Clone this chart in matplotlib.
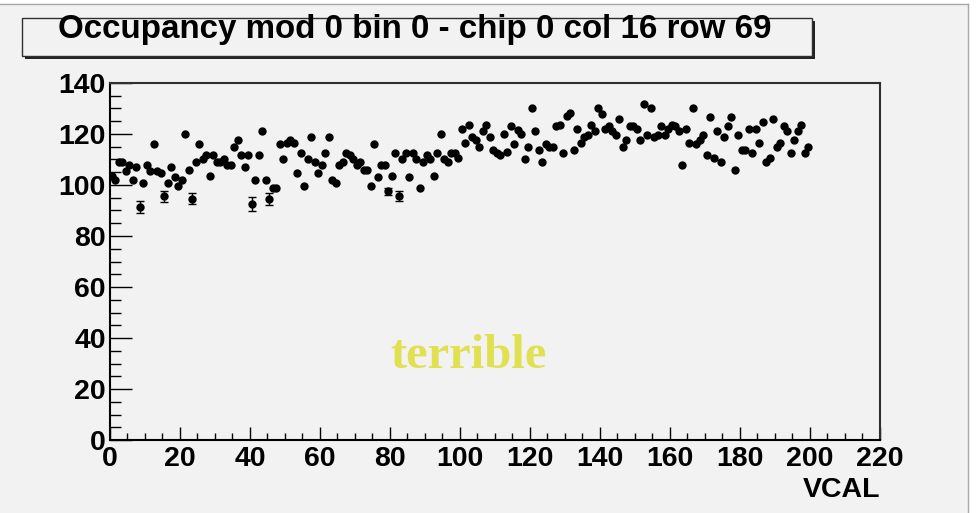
import matplotlib
matplotlib.use('Agg')
from matplotlib import pyplot as plt
from matplotlib.lines import Line2D
from matplotlib.patches import Rectangle
from matplotlib.ticker import MultipleLocator
import numpy as np

# occupancy per VCAL bin (bins 0..199)
occupancy = [
    103.6, 102.1, 109.1, 109.0, 105.6, 107.9, 101.9, 106.9, 91.5, 100.7,
    107.9, 105.6, 116.0, 105.6, 104.7, 95.5, 100.7, 106.9, 103.1, 99.7,
    101.8, 119.9, 105.7, 94.7, 109.0, 116.0, 110.1, 111.7, 103.6, 111.7,
    109.0, 109.1, 110.1, 107.9, 107.9, 115.0, 117.7, 111.7, 106.9, 111.7,
    92.5, 101.9, 111.7, 121.0, 101.9, 94.5, 98.7, 98.7, 116.0, 110.1,
    116.6, 117.7, 116.6, 104.7, 112.7, 99.7, 110.1, 118.7, 109.0, 104.7,
    107.9, 112.7, 118.7, 101.9, 100.7, 107.9, 109.0, 112.7, 111.7, 110.1,
    107.9, 109.0, 105.7, 105.7, 99.7, 116.0, 103.1, 107.9, 107.9, 97.6,
    103.6, 112.7, 95.8, 110.1, 112.7, 103.1, 112.7, 110.1, 98.7, 109.0,
    111.7, 110.1, 103.6, 112.7, 119.9, 110.1, 109.0, 112.7, 112.7, 110.6,
    122.0, 116.6, 123.7, 118.7, 117.7, 115.0, 121.0, 123.7, 118.7, 113.9,
    112.7, 111.8, 119.9, 113.0, 123.0, 116.0, 121.5, 120.0, 110.1, 115.0,
    130.1, 121.0, 113.9, 109.0, 116.0, 115.0, 115.0, 123.2, 123.7, 112.7,
    127.1, 128.1, 113.9, 122.0, 116.6, 118.7, 119.8, 123.7, 121.0, 130.1,
    128.0, 122.0, 123.2, 121.0, 119.8, 125.8, 115.0, 117.7, 123.2, 123.2,
    122.0, 117.7, 131.9, 119.8, 130.1, 118.7, 119.8, 123.2, 119.8, 122.0,
    123.7, 123.2, 121.0, 107.9, 122.0, 116.6, 130.1, 116.0, 117.7, 119.8,
    111.7, 126.8, 110.6, 121.0, 109.0, 118.7, 123.2, 126.8, 105.7, 119.8,
    113.9, 113.9, 122.0, 112.7, 122.0, 116.6, 124.7, 109.0, 110.6, 125.8,
    115.0, 116.6, 123.2, 121.0, 112.7, 117.7, 121.0, 123.7, 112.7, 115.0,
]
vcal = np.arange(len(occupancy)) + 0.5

# bins whose error bar sticks out of the marker
err_bins = [8, 15, 23, 40, 45, 79, 82]
err_sizes = [2.4, 2.0, 2.0, 2.7, 2.2, 1.4, 2.0]

title = 'Occupancy mod 0 bin 0 - chip 0 col 16 row 69'
W, H = 979, 513

plt.rcParams['font.family'] = ['Liberation Sans', 'DejaVu Sans']
plt.rcParams['font.weight'] = 'bold'

fig = plt.figure(figsize=(W / 100, H / 100), dpi=100, facecolor='#f2f2f2')
# white margin on top and right with a thin gray edge
fig.patches.append(Rectangle((0, 509 / H), 1, 4 / H, transform=fig.transFigure,
                             facecolor='white', edgecolor='none'))
fig.patches.append(Rectangle((968 / W, 0), 11 / W, 1, transform=fig.transFigure,
                             facecolor='white', edgecolor='none'))
fig.lines.append(Line2D([0, 968 / W], [509 / H, 509 / H], transform=fig.transFigure,
                        color='#a8a8a8', lw=1))
fig.lines.append(Line2D([968 / W, 968 / W], [0, 509 / H], transform=fig.transFigure,
                        color='#a8a8a8', lw=1))

# frame: x 110..880, y 83..440 in pixels
ax = fig.add_axes([110 / W, (H - 440) / H, 770 / W, (440 - 83) / H])
ax.set_facecolor('#f2f2f2')
ax.set_xlim(0, 220)
ax.set_ylim(0, 140)
for s in ax.spines.values():
    s.set_color('#303030')
    s.set_linewidth(1.5)
ax.spines['left'].set_color('black')
ax.spines['bottom'].set_color('black')

ax.plot(vcal, occupancy, 'o', color='black', ms=5, mec='black')
ax.errorbar(vcal[err_bins], np.array(occupancy)[err_bins], yerr=err_sizes,
            fmt='none', ecolor='black', elinewidth=1, capsize=3, capthick=1)

ax.xaxis.set_major_locator(MultipleLocator(20))
ax.xaxis.set_minor_locator(MultipleLocator(5))
ax.yaxis.set_major_locator(MultipleLocator(20))
ax.yaxis.set_minor_locator(MultipleLocator(5))
ax.tick_params(axis='x', which='major', direction='in', length=9.5, width=1, pad=4,
               labelsize=20.5)
ax.tick_params(axis='x', which='minor', direction='in', length=5, width=1)
ax.tick_params(axis='y', which='major', direction='in', length=16, width=1, pad=3,
               labelsize=20.5)
ax.tick_params(axis='y', which='minor', direction='in', length=8, width=1)

ax.set_xlabel('VCAL', fontsize=20.5, fontweight='bold', loc='right', labelpad=4)

ax.text(0.465, 0.235, 'terrible', transform=ax.transAxes, ha='center', va='center',
        fontsize=35, fontweight='bold', color='#e0e050',
        family=['Liberation Serif', 'DejaVu Serif'])

# title box with shadow
fig.patches.append(Rectangle((25 / W, (H - 59) / H), 790 / W, 38 / H,
                             transform=fig.transFigure, facecolor='#222222',
                             edgecolor='none', zorder=2))
fig.patches.append(Rectangle((22 / W, (H - 56) / H), 790 / W, 38 / H,
                             transform=fig.transFigure, facecolor='#f2f2f2',
                             edgecolor='#303030', lw=1, zorder=3))
fig.text(415 / W, (H - 38) / H, title, ha='center', va='baseline', fontsize=23.9,
         fontweight='bold', zorder=4)

fig.savefig('out.png', dpi=100, facecolor=fig.get_facecolor())
